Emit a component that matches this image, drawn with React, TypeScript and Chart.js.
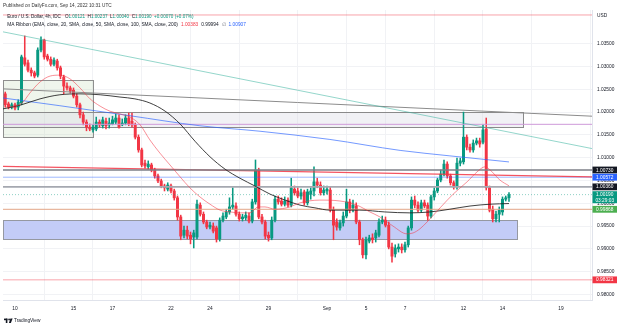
import { useEffect, useRef } from 'react';
import { Chart, registerables } from 'chart.js';

Chart.register(...registerables);

// EUR/USD 4h candles (IDC), oldest first: last slots of Aug 9 through Sep 14 08:00
const opens = [
  1.0240, 1.0218, 1.0211, 1.0216, 1.0211, 1.0220, 1.0319, 1.0308, 1.0292, 1.0286,
  1.0281, 1.0336, 1.0358, 1.0323, 1.0316, 1.0305, 1.0312, 1.0297, 1.0277, 1.0257,
  1.0253, 1.0248, 1.0235, 1.0216, 1.0194, 1.0178, 1.0167, 1.0161, 1.0163, 1.0178,
  1.0170, 1.0180, 1.0172, 1.0174, 1.0178, 1.0187, 1.0172, 1.0176, 1.0187, 1.0180,
  1.0172, 1.0145, 1.0117, 1.0088, 1.0080, 1.0084, 1.0073, 1.0060, 1.0049, 1.0038,
  1.0031, 1.0038, 1.0027, 1.0012, 0.9970, 0.9930, 0.9941, 0.9930, 0.9926, 0.9926,
  0.9996, 0.9976, 0.9959, 0.9948, 0.9950, 0.9946, 0.9922, 0.9963, 0.9970, 0.9981,
  0.9992, 0.9994, 0.9976, 0.9966, 0.9968, 0.9972, 0.9961, 1.0003, 1.0073, 0.9970,
  0.9959, 0.9930, 0.9924, 0.9963, 1.0009, 1.0005, 0.9998, 1.0007, 0.9996, 1.0031,
  1.0027, 1.0016, 1.0025, 1.0001, 1.0020, 1.0027, 1.0047, 1.0040, 1.0023, 1.0027,
  1.0029, 0.9985, 0.9959, 0.9946, 0.9957, 0.9972, 1.0003, 0.9990, 0.9994, 0.9959,
  0.9920, 0.9887, 0.9917, 0.9924, 0.9924, 0.9930, 0.9959, 0.9963, 0.9952, 0.9904,
  0.9889, 0.9900, 0.9904, 0.9898, 0.9909, 0.9946, 1.0007, 0.9996, 0.9985, 1.0001,
  0.9996, 0.9972, 1.0014, 1.0027, 1.0051, 1.0064, 1.0086, 1.0060, 1.0045, 1.0036,
  1.0088, 1.0091, 1.0145, 1.0123, 1.0117, 1.0132, 1.0137, 1.0134, 1.0163, 1.0034,
  0.9987, 0.9966, 0.9976, 0.9981, 1.0009, 1.00121,
];
const highs = [
  1.0244, 1.0222, 1.0220, 1.0220, 1.0227, 1.0325, 1.0367, 1.0314, 1.0297, 1.0290,
  1.0341, 1.0365, 1.0360, 1.0327, 1.0321, 1.0319, 1.0316, 1.0301, 1.0281, 1.0264,
  1.0257, 1.0253, 1.0240, 1.0220, 1.0200, 1.0183, 1.0174, 1.0172, 1.0189, 1.0183,
  1.0189, 1.0187, 1.0187, 1.0191, 1.0196, 1.0194, 1.0185, 1.0194, 1.0198, 1.0198,
  1.0176, 1.0150, 1.0121, 1.0095, 1.0093, 1.0088, 1.0077, 1.0064, 1.0053, 1.0042,
  1.0045, 1.0042, 1.0031, 1.0016, 0.9974, 0.9950, 0.9950, 0.9937, 0.9941, 1.0007,
  1.0001, 0.9981, 0.9963, 0.9959, 0.9957, 0.9950, 0.9968, 0.9979, 0.9987, 1.0012,
  1.0034, 1.0001, 0.9981, 0.9976, 0.9981, 0.9979, 1.0009, 1.0095, 1.0077, 0.9976,
  0.9963, 0.9937, 0.9970, 1.0016, 1.0016, 1.0012, 1.0014, 1.0012, 1.0055, 1.0038,
  1.0034, 1.0031, 1.0029, 1.0031, 1.0034, 1.0080, 1.0055, 1.0047, 1.0038, 1.0038,
  1.0036, 0.9992, 0.9966, 0.9963, 0.9981, 1.0031, 1.0009, 1.0007, 1.0001, 0.9963,
  0.9924, 0.9926, 0.9930, 0.9933, 0.9941, 0.9966, 0.9972, 0.9970, 0.9959, 0.9913,
  0.9909, 0.9911, 0.9911, 0.9915, 0.9950, 1.0014, 1.0016, 1.0003, 1.0007, 1.0007,
  1.0001, 1.0018, 1.0034, 1.0055, 1.0073, 1.0095, 1.0091, 1.0064, 1.0049, 1.0099,
  1.0099, 1.0200, 1.0150, 1.0130, 1.0139, 1.0143, 1.0143, 1.0172, 1.0187, 1.0038,
  0.9994, 0.9983, 0.9992, 1.0014, 1.0016, 1.00237,
];
const lows = [
  1.0211, 1.0207, 1.0207, 1.0205, 1.0205, 1.0216, 1.0301, 1.0288, 1.0279, 1.0275,
  1.0277, 1.0332, 1.0316, 1.0312, 1.0301, 1.0301, 1.0292, 1.0273, 1.0240, 1.0248,
  1.0242, 1.0231, 1.0211, 1.0187, 1.0172, 1.0159, 1.0159, 1.0156, 1.0159, 1.0167,
  1.0165, 1.0163, 1.0165, 1.0172, 1.0174, 1.0165, 1.0170, 1.0172, 1.0170, 1.0167,
  1.0141, 1.0112, 1.0080, 1.0077, 1.0075, 1.0069, 1.0055, 1.0045, 1.0034, 1.0027,
  1.0027, 1.0023, 1.0007, 0.9963, 0.9920, 0.9924, 0.9922, 0.9911, 0.9902, 0.9922,
  0.9972, 0.9955, 0.9944, 0.9944, 0.9935, 0.9915, 0.9917, 0.9959, 0.9966, 0.9976,
  0.9987, 0.9972, 0.9961, 0.9961, 0.9963, 0.9957, 0.9957, 0.9998, 0.9966, 0.9955,
  0.9922, 0.9917, 0.9920, 0.9959, 0.9998, 0.9994, 0.9994, 0.9992, 0.9992, 1.0018,
  1.0012, 1.0009, 0.9996, 0.9996, 1.0009, 1.0016, 1.0034, 1.0018, 1.0018, 1.0020,
  0.9981, 0.9920, 0.9941, 0.9941, 0.9950, 0.9968, 0.9979, 0.9981, 0.9955, 0.9909,
  0.9880, 0.9878, 0.9913, 0.9913, 0.9915, 0.9926, 0.9955, 0.9948, 0.9900, 0.9871,
  0.9882, 0.9893, 0.9891, 0.9893, 0.9904, 0.9941, 0.9990, 0.9981, 0.9981, 0.9990,
  0.9963, 0.9968, 1.0007, 1.0023, 1.0047, 1.0060, 1.0055, 1.0040, 1.0031, 1.0031,
  1.0082, 1.0086, 1.0117, 1.0112, 1.0112, 1.0128, 1.0123, 1.0130, 1.0029, 0.9981,
  0.9959, 0.9959, 0.9959, 0.9974, 1.0005, 1.00040,
];
const closes = [
  1.0216, 1.0211, 1.0216, 1.0209, 1.0222, 1.0321, 1.0305, 1.0292, 1.0286, 1.0279,
  1.0336, 1.0358, 1.0321, 1.0316, 1.0305, 1.0314, 1.0297, 1.0279, 1.0257, 1.0253,
  1.0246, 1.0235, 1.0216, 1.0194, 1.0178, 1.0167, 1.0163, 1.0167, 1.0178, 1.0172,
  1.0183, 1.0170, 1.0176, 1.0183, 1.0187, 1.0167, 1.0176, 1.0187, 1.0174, 1.0172,
  1.0145, 1.0117, 1.0084, 1.0082, 1.0086, 1.0073, 1.0060, 1.0049, 1.0038, 1.0034,
  1.0040, 1.0027, 1.0012, 0.9970, 0.9928, 0.9941, 0.9928, 0.9922, 0.9935, 0.9998,
  0.9976, 0.9959, 0.9948, 0.9952, 0.9939, 0.9922, 0.9963, 0.9972, 0.9981, 0.9992,
  0.9996, 0.9976, 0.9966, 0.9970, 0.9974, 0.9961, 1.0003, 1.0073, 0.9970, 0.9959,
  0.9928, 0.9924, 0.9963, 1.0009, 1.0003, 0.9998, 1.0005, 0.9996, 1.0034, 1.0023,
  1.0016, 1.0023, 1.0001, 1.0025, 1.0027, 1.0047, 1.0040, 1.0023, 1.0029, 1.0031,
  0.9985, 0.9952, 0.9948, 0.9957, 0.9972, 1.0003, 0.9985, 0.9996, 0.9959, 0.9920,
  0.9887, 0.9920, 0.9924, 0.9920, 0.9935, 0.9959, 0.9963, 0.9952, 0.9904, 0.9884,
  0.9902, 0.9904, 0.9898, 0.9909, 0.9946, 1.0007, 0.9996, 0.9985, 1.0001, 0.9994,
  0.9972, 1.0014, 1.0027, 1.0051, 1.0064, 1.0086, 1.0060, 1.0045, 1.0036, 1.0088,
  1.0093, 1.0145, 1.0123, 1.0117, 1.0132, 1.0137, 1.0130, 1.0161, 1.0034, 0.9985,
  0.9966, 0.9976, 0.9985, 1.0009, 1.0012, 1.00190,
];

// Date labels on the time axis, given as candle slot numbers
const dateTickSlots = [3, 21, 33, 51, 63, 81, 99, 111, 123, 141, 153, 171];
const dateTickLabels = ['10', '15', '17', '22', '24', '29', 'Sep', '5', '7', '12', '14', '19'];
const priceTicks = [0.98, 0.985, 0.99, 0.995, 1.0, 1.005, 1.01, 1.015, 1.02, 1.025, 1.03, 1.035];

// MA Ribbon: EMA 20, SMA 50, SMA 200 (slot, value)
const emaSlots = [0, 3, 5.2, 7.6, 10.7, 13.8, 16.8, 19.9, 23, 26.1, 29.2, 32.2, 35.3, 38.4, 41.5, 44.5, 47.6, 50.7, 53.8, 56.8, 59.9, 63, 66.1, 69.2, 72.2, 75.3, 77.8, 79.9, 83, 87.6, 90.7, 96.8, 103, 108.2, 112.2, 115.3, 119.3, 123.6, 125.5, 127.6, 129.8, 133.8, 137.8, 142.1, 145.2, 147.6, 149.2, 152.2, 155];
const emaValues = [1.0211, 1.0213, 1.0220, 1.0242, 1.0266, 1.0279, 1.0281, 1.0273, 1.0253, 1.0229, 1.0213, 1.0202, 1.0196, 1.0189, 1.0172, 1.0139, 1.0110, 1.0084, 1.0058, 1.0034, 1.0014, 0.9998, 0.9985, 0.9981, 0.9979, 0.9979, 0.9992, 0.9992, 0.9987, 0.9992, 1.0001, 1.0007, 1.0005, 0.9996, 0.9981, 0.9970, 0.9950, 0.9933, 0.9935, 0.9944, 0.9959, 0.9990, 1.0020, 1.0047, 1.0069, 1.0080, 1.0073, 1.0051, 1.00383];
const sma50Slots = [-0.7, 4.5, 10.7, 16.8, 23, 29.2, 35.3, 39.9, 44.5, 49.2, 53.8, 58.4, 63, 67.6, 72.2, 76.8, 81.5, 86.1, 90.7, 95.3, 99.9, 109.1, 116.8, 124.5, 130.7, 136.8, 143, 149.2, 155];
const sma50Values = [1.0207, 1.0215, 1.0229, 1.0238, 1.0240, 1.0238, 1.0233, 1.0229, 1.0220, 1.0202, 1.0174, 1.0136, 1.0102, 1.0075, 1.0055, 1.0038, 1.0020, 1.0007, 0.9996, 0.9990, 0.9985, 0.9985, 0.9981, 0.9979, 0.9981, 0.9987, 0.9994, 0.9998, 0.99994];
const sma200Slots = [-0.7, 16.8, 38.4, 59.9, 78.4, 99.9, 121.5, 136.8, 155];
const sma200Values = [1.0231, 1.0214, 1.0192, 1.0170, 1.0158, 1.0140, 1.0116, 1.0104, 1.00907];

// Drawings: horizontal levels, trend lines and zones
const X_MIN = -0.69;
const X_MAX = 180.54;
const Y_MIN = 0.97879;
const Y_MAX = 1.04239;
const topLevel = 1.0413;
const lilacLevel = 1.01732;
const resistanceLevel = 1.0073;
const blueLevel = 1.00572;
const pivotLevel = 1.0036;
const tanLevel = 0.99868;
const lowLevel = 0.98321;
const tealTrend = [1.0376, 1.0120];
const grayTrend = [1.0251, 1.0191];
const redTrend = [1.0081, 1.0058];
const greenZone = { from: X_MIN, to: 27, hi: 1.0270, lo: 1.0145 };
const upperZone = { from: X_MIN, to: 159.3, hi: 1.0200, lo: 1.01684 };
const supportZone = { from: X_MIN, to: 157.5, hi: 0.99623, lo: 0.99206 };

const UP = '#089981';
const DOWN = '#f23645';
const TEXT = '#131722';
const FONT = '"Liberation Sans", Arial, sans-serif';

const fmt = (v: number) => v.toFixed(5);

function hline(price: number, color: string, width = 1, dash: number[] = []) {
  return {
    type: 'line' as const,
    data: [{ x: X_MIN, y: price }, { x: X_MAX, y: price }],
    borderColor: color,
    borderWidth: width,
    borderDash: dash,
    pointRadius: 0,
    order: 1,
  };
}

function trend(ends: number[], color: string, width = 1) {
  return {
    type: 'line' as const,
    data: [{ x: X_MIN, y: ends[0] }, { x: X_MAX, y: ends[1] }],
    borderColor: color,
    borderWidth: width,
    pointRadius: 0,
    order: 1,
  };
}

function maLine(slots: number[], values: number[], color: string) {
  return {
    type: 'line' as const,
    data: slots.map((s, k) => ({ x: s, y: values[k] })),
    borderColor: color,
    borderWidth: 1,
    pointRadius: 0,
    cubicInterpolationMode: 'monotone' as const,
    order: 0,
  };
}

// Writes coloured text pieces one after another on one line
function drawRuns(ctx: CanvasRenderingContext2D, x: number, y: number, runs: [string, string, number][]) {
  let cx = x;
  for (const [t, c, gap] of runs) {
    cx += gap;
    ctx.fillStyle = c;
    ctx.fillText(t, cx, y);
    cx += ctx.measureText(t).width;
  }
}

const drawings = {
  id: 'drawings',
  beforeDatasetsDraw(chart: any) {
    const { ctx, chartArea, scales } = chart;
    const { x, y } = scales;
    ctx.save();
    ctx.beginPath();
    ctx.rect(chartArea.left, chartArea.top, chartArea.right - chartArea.left, chartArea.bottom - chartArea.top);
    ctx.clip();
    const zone = (z: any, fill: string, stroke: string) => {
      const l = Math.round(x.getPixelForValue(z.from)) + 0.5;
      const r = Math.round(x.getPixelForValue(z.to)) + 0.5;
      const t = Math.round(y.getPixelForValue(z.hi)) + 0.5;
      const b = Math.round(y.getPixelForValue(z.lo)) + 0.5;
      ctx.fillStyle = fill;
      ctx.fillRect(l, t, r - l, b - t);
      ctx.strokeStyle = stroke;
      ctx.lineWidth = 1;
      ctx.strokeRect(l, t, r - l, b - t);
    };
    zone(greenZone, 'rgba(190,215,180,0.25)', '#8f8f8f');
    zone(upperZone, 'rgba(215,215,225,0.35)', '#8a8a8a');
    zone(supportZone, '#c3ccf7', '#9598a1');
    ctx.restore();
  },
  afterDraw(chart: any) {
    const { ctx, chartArea, scales } = chart;
    const y = scales.y;
    const last = opens.length - 1;
    ctx.save();
    ctx.textBaseline = 'middle';
    ctx.textAlign = 'left';

    // header
    ctx.font = `4.7px ${FONT}`;
    ctx.fillStyle = '#333';
    ctx.fillText('Published on DailyFx.com, Sep 14, 2022 10:31 UTC', 3, 6);

    // symbol legend
    ctx.font = `4.6px ${FONT}`;
    const chg = closes[last] - closes[last - 1];
    const pct = (chg / closes[last - 1]) * 100;
    drawRuns(ctx, 7.3, 16.9, [
      ['Euro / U.S. Dollar, 4h, IDC', TEXT, 0],
      ['O', TEXT, 4],
      [fmt(opens[last]), UP, 0],
      ['H', TEXT, 2.5],
      [fmt(highs[last]), UP, 0],
      ['L', TEXT, 2.5],
      [fmt(lows[last]), UP, 0],
      ['C', TEXT, 2.5],
      [fmt(closes[last]), UP, 0],
      [`+${fmt(chg)} (+${pct.toFixed(2)}%)`, UP, 2.5],
    ]);

    // indicator legend
    ctx.font = `4.8px ${FONT}`;
    drawRuns(ctx, 7.3, 24.3, [
      ['MA Ribbon (EMA, close, 20, SMA, close, 50, SMA, close, 100, SMA, close, 200)', TEXT, 0],
      [fmt(emaValues[emaValues.length - 1]), DOWN, 3],
      [fmt(sma50Values[sma50Values.length - 1]), TEXT, 3],
      ['\u2205', '#787b86', 3],
      [fmt(sma200Values[sma200Values.length - 1]), '#2962ff', 3],
    ]);

    // price scale flags
    const bx = chartArea.right + 0.5;
    const bw = 24.5;
    ctx.textAlign = 'center';
    const flag = (price: number, bg: string) => {
      const py = y.getPixelForValue(price);
      ctx.fillStyle = bg;
      ctx.fillRect(bx, py - 3.4, bw, 6.8);
      ctx.fillStyle = '#fff';
      ctx.fillText(fmt(price), bx + bw / 2, py + 0.2);
    };
    flag(resistanceLevel, TEXT);
    flag(blueLevel, '#2962ff');
    flag(pivotLevel, TEXT);
    flag(tanLevel, '#4caf50');
    flag(lowLevel, DOWN);
    const cy = y.getPixelForValue(closes[last]);
    ctx.fillStyle = UP;
    ctx.fillRect(bx, cy - 3.4, bw, 12);
    ctx.fillStyle = '#fff';
    ctx.fillText(fmt(closes[last]), bx + bw / 2, cy + 0.2);
    ctx.fillText('03:29:03', bx + bw / 2, cy + 5.8);

    // currency
    ctx.textAlign = 'left';
    ctx.fillStyle = TEXT;
    ctx.fillText('USD', 597, y.getPixelForValue(topLevel) + 0.5);

    // TradingView logo
    ctx.fillStyle = TEXT;
    ctx.fillRect(4, 318.6, 3.4, 1.6);
    ctx.fillRect(5.8, 318.6, 1.6, 4.4);
    ctx.beginPath();
    ctx.arc(9.1, 319.4, 0.85, 0, Math.PI * 2);
    ctx.fill();
    ctx.beginPath();
    ctx.moveTo(10.4, 318.6);
    ctx.lineTo(12.6, 318.6);
    ctx.lineTo(10.9, 323);
    ctx.lineTo(8.9, 323);
    ctx.closePath();
    ctx.fill();
    ctx.fillText('TradingView', 14, 321);
    ctx.restore();
  },
};

export default function App() {
  const ref = useRef<HTMLCanvasElement>(null);

  useEffect(() => {
    const canvas = ref.current;
    if (!canvas) return;
    const slots = opens.map((_, i) => i);
    const colors = slots.map((i) => (closes[i] >= opens[i] ? UP : DOWN));

    const chart = new Chart(canvas, {
      type: 'bar',
      data: {
        datasets: [
          maLine(emaSlots, emaValues, 'rgba(242,54,69,0.55)'),
          maLine(sma50Slots, sma50Values, 'rgba(30,30,30,0.85)'),
          maLine(sma200Slots, sma200Values, 'rgba(41,98,255,0.65)'),
          hline(topLevel, 'rgba(242,54,69,0.45)'),
          trend(tealTrend, 'rgba(60,180,160,0.55)'),
          trend(grayTrend, '#8c8c8c'),
          hline(lilacLevel, '#cf9ad9'),
          hline(resistanceLevel, '#7d7f87', 1.3),
          trend(redTrend, 'rgba(242,54,69,0.85)', 1.4),
          hline(blueLevel, 'rgba(41,98,255,0.45)'),
          hline(pivotLevel, '#a5a8b0', 1.8),
          hline(closes[closes.length - 1], 'rgba(8,153,129,0.45)', 1, [1, 2]),
          hline(tanLevel, '#e2a587'),
          hline(lowLevel, 'rgba(242,54,69,0.45)'),
          {
            type: 'bar',
            data: slots.map((i) => ({ x: i, y: [opens[i], closes[i]] })),
            backgroundColor: colors,
            borderWidth: 0,
            barThickness: 2.3,
            minBarLength: 1,
            grouped: false,
            order: 2,
          } as any,
          {
            type: 'bar',
            data: slots.map((i) => ({ x: i, y: [lows[i], highs[i]] })),
            backgroundColor: colors,
            borderWidth: 0,
            barThickness: 0.9,
            grouped: false,
            order: 3,
          } as any,
        ],
      },
      options: {
        responsive: false,
        animation: false,
        layout: { padding: { top: 10, left: 3, right: 0, bottom: 0 } },
        plugins: { legend: { display: false }, tooltip: { enabled: false } },
        scales: {
          x: {
            type: 'linear',
            min: X_MIN,
            max: X_MAX,
            offset: false,
            grid: { color: '#f1f2f5', drawTicks: false },
            border: { color: '#e0e3eb' },
            ticks: {
              autoSkip: false,
              maxRotation: 0,
              padding: 6,
              color: TEXT,
              font: { size: 4.8, family: FONT },
              callback: (_v: any, idx: number) => dateTickLabels[idx] ?? '',
            },
            afterBuildTicks: (s: any) => {
              s.ticks = dateTickSlots.map((v) => ({ value: v }));
            },
            afterFit: (s: any) => {
              s.height = 30;
            },
          },
          y: {
            type: 'linear',
            position: 'right',
            min: Y_MIN,
            max: Y_MAX,
            grid: { color: '#f1f2f5', drawTicks: false },
            border: { color: '#e0e3eb' },
            ticks: {
              padding: 5,
              color: TEXT,
              font: { size: 4.8, family: FONT },
              callback: (v: any) => Number(v).toFixed(5),
            },
            afterBuildTicks: (s: any) => {
              s.ticks = priceTicks.map((v) => ({ value: v }));
            },
            afterFit: (s: any) => {
              s.width = 33;
            },
          },
        },
      } as any,
      plugins: [drawings],
    });
    return () => chart.destroy();
  }, []);

  return (
    <div style={{ position: 'fixed', left: 0, top: 0, width: 625, height: 330, background: '#fff' }}>
      <canvas ref={ref} width={625} height={330} style={{ width: 625, height: 330, display: 'block' }} />
    </div>
  );
}
